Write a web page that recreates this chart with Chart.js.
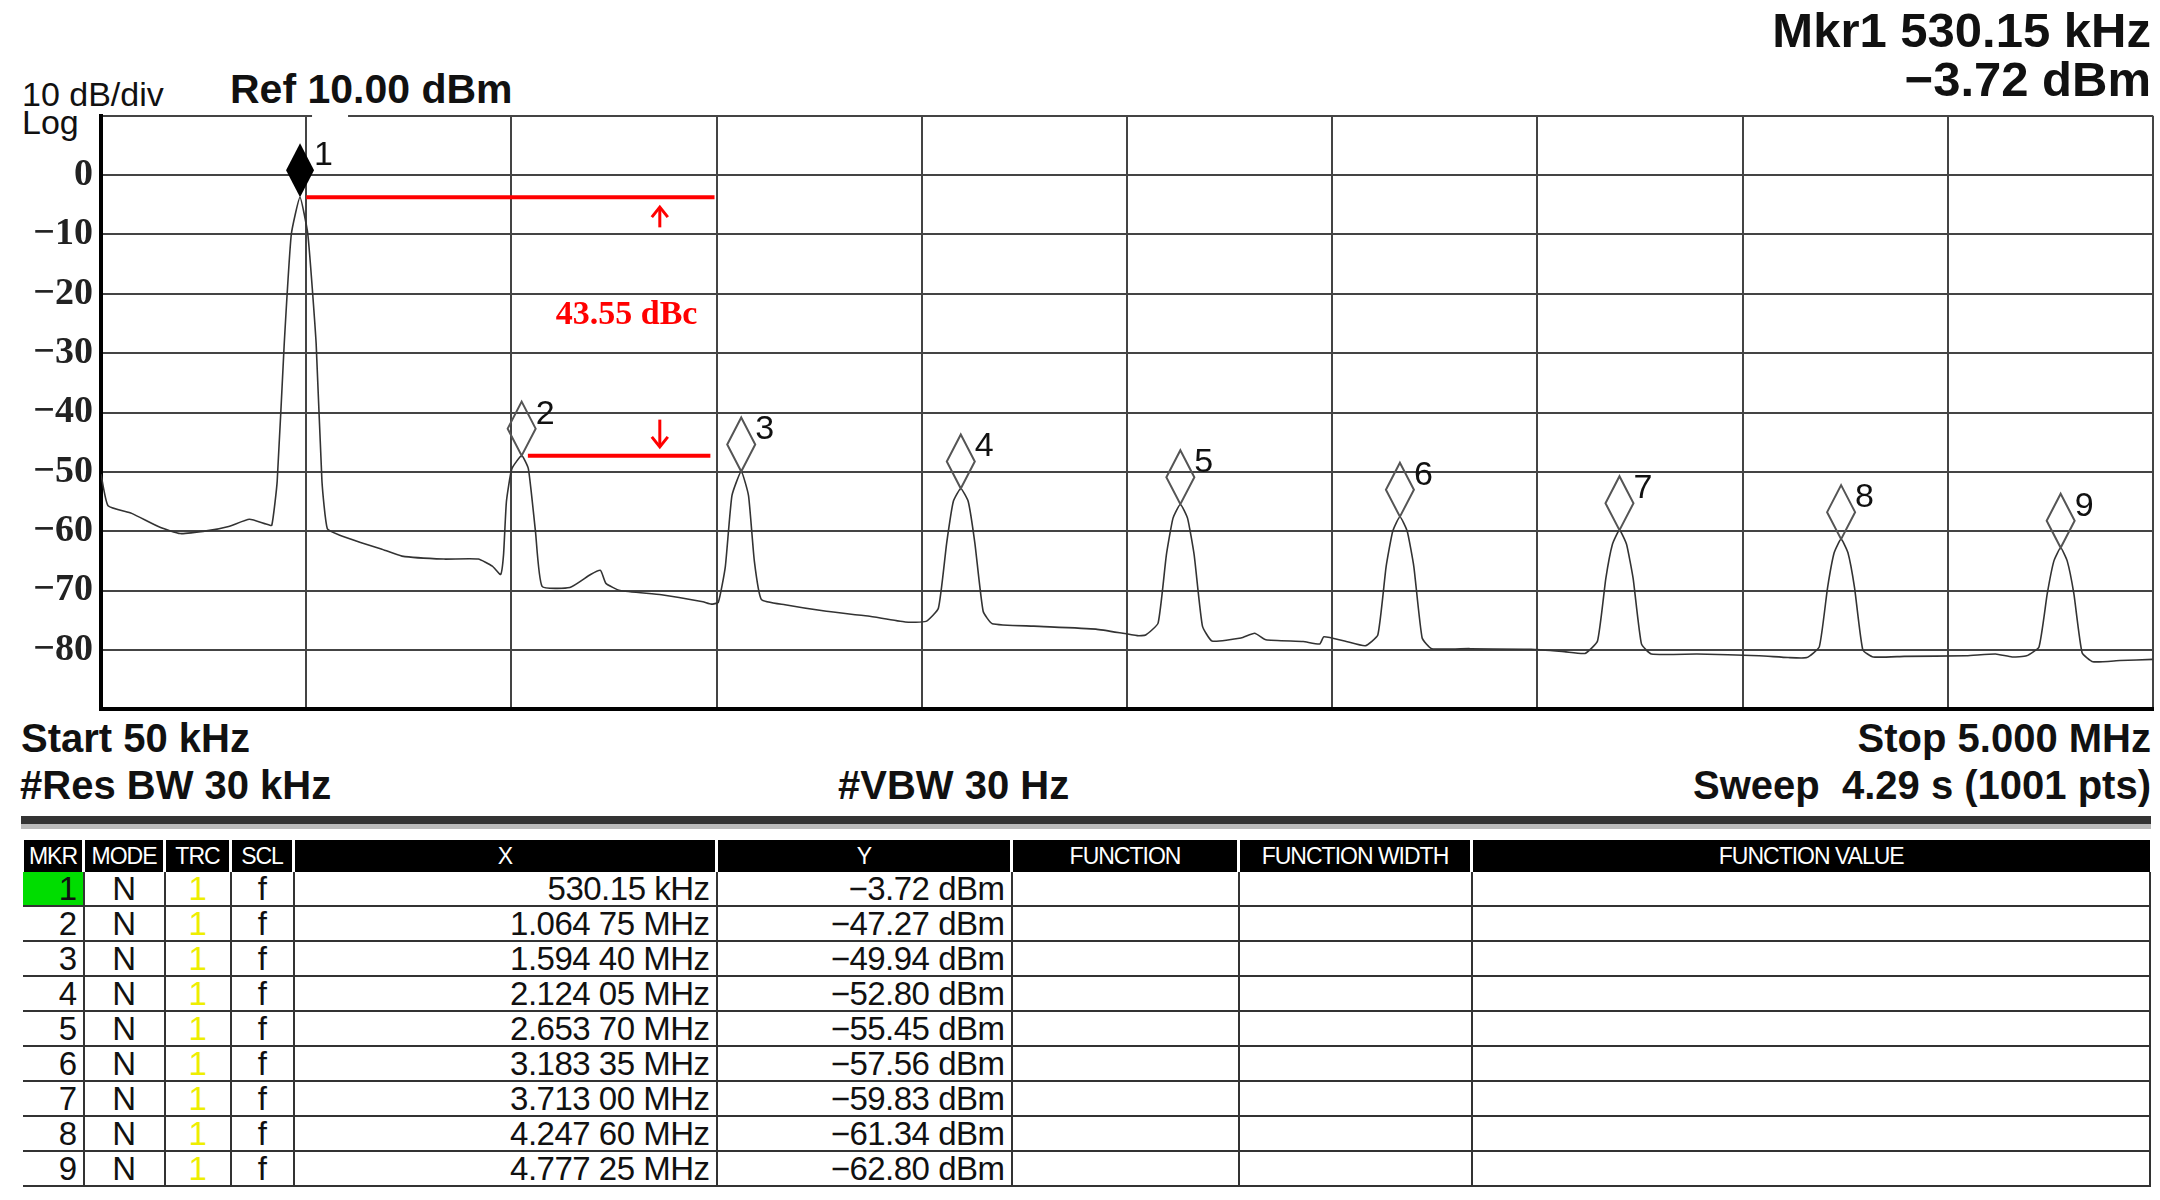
<!DOCTYPE html>
<html><head><meta charset="utf-8">
<script src="https://cdn.jsdelivr.net/npm/chart.js@4.4.0/dist/chart.umd.min.js"></script>
<style>
body{margin:0;width:2160px;height:1200px;background:#fff;position:relative;overflow:hidden;font-family:"Liberation Sans",Arial,sans-serif;color:#111}
.t{position:absolute;white-space:nowrap;line-height:1}
#wrap{position:absolute;left:11px;top:85px;width:2144px;height:655px}
table{position:absolute;left:21px;top:840px;border-collapse:collapse;font-family:"Liberation Sans",Arial;table-layout:fixed}
th{background:#000;color:#fff;font-weight:normal;font-size:23px;height:32px;padding:0;border-left:3px solid #fff;text-align:center;letter-spacing:-1px}
td{font-size:33px;height:33px;padding:0 6px 0 0;border-bottom:2px solid #333;border-left:2px solid #333;line-height:33px;letter-spacing:-0.5px}
td.c{text-align:center;padding:0}
td.r{text-align:right}
</style></head><body>
<div class="t" style="right:9px;top:6px;font-size:49px;font-weight:bold">Mkr1 530.15 kHz</div>
<div class="t" style="right:9px;top:55px;font-size:49px;font-weight:bold">−3.72 dBm</div>
<div class="t" style="left:22px;top:77px;font-size:34px">10 dB/div</div>
<div class="t" style="left:230px;top:69px;font-size:41px;font-weight:bold">Ref 10.00 dBm</div>
<div class="t" style="left:22px;top:105px;font-size:34px">Log</div>
<div class="t" style="left:21px;top:718px;font-size:40px;font-weight:bold">Start 50 kHz</div>
<div class="t" style="right:9px;top:718px;font-size:40px;font-weight:bold">Stop 5.000 MHz</div>
<div class="t" style="left:20px;top:765px;font-size:40px;font-weight:bold">#Res BW 30 kHz</div>
<div class="t" style="left:838px;top:765px;font-size:40px;font-weight:bold">#VBW 30 Hz</div>
<div class="t" style="right:9px;top:765px;font-size:40px;font-weight:bold">Sweep&nbsp;&nbsp;4.29 s (1001 pts)</div>
<div style="position:absolute;left:21px;top:816px;width:2130px;height:8px;background:#333"></div>
<div style="position:absolute;left:21px;top:824px;width:2130px;height:5px;background:#bbb"></div>
<div id="wrap"><canvas id="c"></canvas></div>
<table id="tb"></table>
<script>
const startMHz = 0.05, stopMHz = 5.0;
const yTicks = [0,-10,-20,-30,-40,-50,-60,-70,-80];
const traceMHz = [0.050,0.067,0.124,0.191,0.241,0.308,0.358,0.408,0.448,0.462,0.475,0.492,0.509,0.530,0.549,0.569,0.583,0.596,0.626,0.676,0.726,0.776,0.877,0.960,0.994,1.014,1.021,1.028,1.041,1.0648,1.081,1.098,1.114,1.181,1.231,1.255,1.268,1.302,1.402,1.502,1.522,1.539,1.556,1.572,1.5944,1.612,1.626,1.643,1.700,1.800,1.900,1.990,
2.040,2.070,2.090,2.106,2.124,2.142,2.158,2.178,2.200,2.300,2.450,2.550,
2.570,2.600,2.620,2.636,2.6537,2.671,2.687,2.707,2.730,2.800,2.833,2.860,2.950,2.990,3.000,3.050,
3.100,3.130,3.150,3.166,3.18335,3.201,3.217,3.237,3.260,3.350,3.500,3.580,
3.630,3.660,3.680,3.696,3.713,3.730,3.746,3.766,3.790,3.900,4.050,4.120,
4.165,4.195,4.215,4.231,4.2476,4.264,4.280,4.300,4.325,4.400,4.550,4.620,4.660,
4.695,4.725,4.745,4.761,4.77725,4.793,4.809,4.829,4.855,4.920,5.000];
const traceDbm = [-50.4,-55.7,-57.0,-59.3,-60.4,-59.9,-59.2,-58.0,-58.8,-59.0,-51.6,-28.4,-10.0,-3.72,-10.0,-28.4,-51.6,-59.6,-60.7,-61.9,-63.0,-64.2,-64.7,-64.7,-65.9,-67.3,-64,-55,-49.5,-47.27,-49.5,-60,-69.3,-69.5,-67.3,-66.6,-68.8,-70,-70.7,-71.9,-72.3,-72,-66,-54,-49.94,-54,-65,-71.5,-72.4,-73.5,-74.3,-75.3,
-75.2,-73,-62,-55,-52.8,-55,-62,-73.5,-75.6,-76.0,-76.5,-77.6,
-77.5,-75.5,-64,-57.8,-55.45,-57.8,-64,-76,-78.5,-78.0,-77.2,-78.3,-78.6,-79,-77.8,-78.5,
-79.3,-77.5,-66,-60,-57.56,-60,-66,-78,-79.8,-79.8,-79.9,-80.3,
-80.6,-78.5,-68,-62.2,-59.83,-62.2,-68,-79,-80.7,-80.7,-81.0,-81.3,
-81.3,-79.5,-69.5,-63.6,-61.34,-63.6,-69.5,-80,-81.2,-81.1,-81.0,-80.7,-81.2,
-81,-79.5,-70.5,-65,-62.8,-65,-70.5,-80.5,-82,-81.8,-81.6];
const markerMHz = [0.53015,1.06475,1.5944,2.12405,2.6537,3.18335,3.713,4.2476,4.77725];
const markerDbm = [-3.72,-47.27,-49.94,-52.80,-55.45,-57.56,-59.83,-61.34,-62.80];
const refLineEnd = 1.53, deltaText = "43.55 dBc", arrowMHz = 1.398;

const xGrid=[]; for(let i=0;i<=10;i++) xGrid.push(startMHz+(stopMHz-startMHz)*i/10);

const overlay = {id:'ov', afterDatasetsDraw(ch){
  const c=ch.ctx, xs=ch.scales.x, ys=ch.scales.y;
  c.save();
  const ax=xs.getPixelForValue(arrowMHz);
  c.strokeStyle='#f00'; c.lineWidth=3;
  function arrow(y0,y1){const a=ys.getPixelForValue(y0),b=ys.getPixelForValue(y1);
    c.beginPath();c.moveTo(ax,a);c.lineTo(ax,b);c.stroke();
    const d=b<a?1:-1;c.beginPath();c.moveTo(ax-8,b+d*10);c.lineTo(ax,b);c.lineTo(ax+8,b+d*10);c.stroke();}
  arrow(-8.8,-5.4); arrow(-41.2,-45.8);
  c.fillStyle='#f00'; c.font='bold 34px "Liberation Serif"'; c.textBaseline='middle';
  c.fillText(deltaText, xs.getPixelForValue(1.147), ys.getPixelForValue(-23.6));
  markerMHz.forEach((f,i)=>{
    const px=xs.getPixelForValue(f), py=ys.getPixelForValue(markerDbm[i]);
    const hw=14, hh=27, cy=py-hh;
    c.beginPath();c.moveTo(px,cy-hh);c.lineTo(px+hw,cy);c.lineTo(px,py);c.lineTo(px-hw,cy);c.closePath();
    if(i===0){c.fillStyle='#000';c.fill();}else{c.strokeStyle='#555';c.lineWidth=2;c.stroke();}
    c.font='34px "Liberation Sans"';c.textBaseline='alphabetic';
    if(i===0){c.fillStyle='#fff';c.fillRect(px+12,ys.top-4,36,42);}
    c.fillStyle='#111';
    c.fillText(String(i+1),px+14,cy-hh+22);
  });
  c.restore();
}};

new Chart(document.getElementById('c'),{
  type:'line',
  data:{datasets:[
    {data:traceMHz.map((f,i)=>({x:f,y:traceDbm[i]})),borderColor:'#333',borderWidth:1.6,pointRadius:0,tension:0.15},
    {data:[{x:markerMHz[0]+0.015,y:markerDbm[0]},{x:refLineEnd,y:markerDbm[0]}],borderColor:'#f00',borderWidth:4,pointRadius:0},
    {data:[{x:markerMHz[1]+0.015,y:markerDbm[1]},{x:refLineEnd-0.01,y:markerDbm[1]}],borderColor:'#f00',borderWidth:4,pointRadius:0}
  ]},
  plugins:[overlay],
  options:{responsive:true,maintainAspectRatio:false,animation:false,
    layout:{padding:{top:2,right:2,bottom:2,left:0}},
    plugins:{legend:{display:false},tooltip:{enabled:false}},
    scales:{
      x:{type:'linear',min:startMHz,max:stopMHz,
        afterBuildTicks:s=>{s.ticks=xGrid.map(v=>({value:v}));},
        ticks:{display:false},grid:{color:'#444',lineWidth:2,drawTicks:false},
        border:{color:'#000',width:4},afterFit:s=>{s.height=0;}},
      y:{min:-90,max:10,
        afterBuildTicks:s=>{s.ticks=[];for(let v=10;v>=-90;v-=10)s.ticks.push({value:v});},
        ticks:{padding:8,color:'#222',font:{family:'"Liberation Serif"',size:38,weight:'bold'},
          callback:v=>yTicks.includes(v)?(v<0?'−'+Math.abs(v):String(v)):''},
        grid:{color:'#444',lineWidth:2,drawTicks:false},
        border:{color:'#000',width:4},afterFit:s=>{s.width=90;}}
    }}
});

const cols=[['MKR',61],['MODE',81],['TRC',66],['SCL',63],['X',423],['Y',295],['FUNCTION',227],['FUNCTION WIDTH',233],['FUNCTION VALUE',678]];
let h='<colgroup>'+cols.map(c=>`<col style="width:${c[1]}px">`).join('')+'</colgroup><tr>'+cols.map(c=>`<th>${c[0]}</th>`).join('')+'</tr>';
function fx(f){if(f<1)return (f*1000).toFixed(2)+' kHz';const s=f.toFixed(5);return s.slice(0,5)+' '+s.slice(5)+' MHz';}
markerMHz.forEach((f,i)=>{
  h+=`<tr><td class="r" style="border-left:none;${i===0?'background:#0d0;':''}">${i+1}</td><td class="c">N</td><td class="c" style="color:#ee0">1</td><td class="c">f</td>`+
     `<td class="r">${fx(f)}</td><td class="r">−${Math.abs(markerDbm[i]).toFixed(2)} dBm</td><td></td><td></td><td style="border-right:2px solid #333"></td></tr>`;
});
document.getElementById('tb').innerHTML=h;
</script></body></html>
